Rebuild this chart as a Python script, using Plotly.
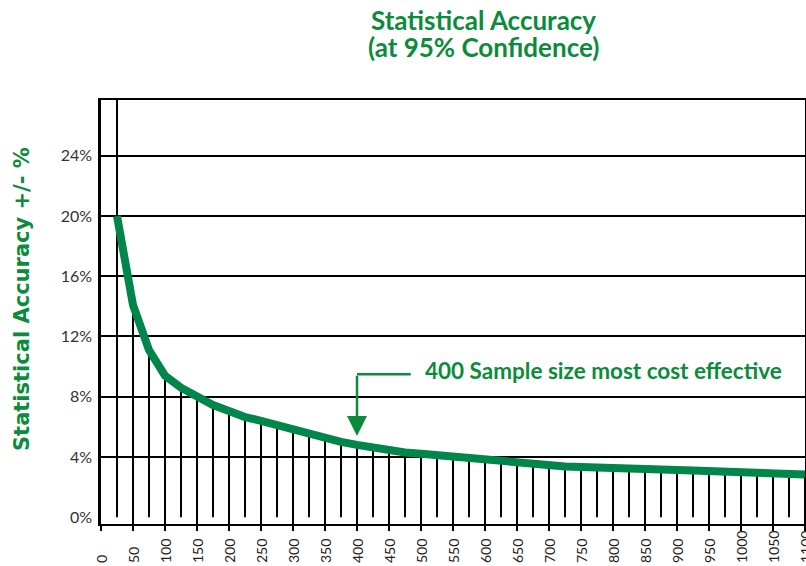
import plotly.graph_objects as go

# ---- data ----
sample_size = [25, 50, 75, 100, 125, 150, 175, 200, 225, 250, 275, 300, 325, 350,
               375, 400, 425, 450, 475, 500, 525, 550, 575, 600, 625, 650, 675, 700,
               725, 750, 775, 800, 825, 850, 875, 900, 925, 950, 975, 1000, 1025,
               1050, 1075, 1100]
accuracy = [20.0, 14.1, 11.1, 9.4, 8.6, 8.0, 7.45, 7.05, 6.65, 6.4, 6.1, 5.8, 5.5, 5.25,
            5.0, 4.8, 4.6, 4.45, 4.3, 4.22, 4.12, 4.0, 3.88, 3.78, 3.66, 3.55, 3.48, 3.42,
            3.37, 3.33, 3.28, 3.22, 3.19, 3.17, 3.15, 3.13, 3.11, 3.08, 3.04, 2.99, 2.95,
            2.92, 2.88, 2.84]
x_ticks = list(range(0, 1101, 50))
x_tick_labels = [str(v) for v in x_ticks]
y_ticks = [0, 4, 8, 12, 16, 20, 24]
y_tick_labels = [f"{v}%" for v in y_ticks]
grid_levels = [4, 8, 12, 16, 20, 24]
highlight_n = 400
highlight_text = "400 Sample size most cost effective"
title_lines = ["Statistical Accuracy", "(at 95% Confidence)"]
y_title = "Statistical Accuracy +/- %"

GREEN_LINE = "#00854a"
GREEN_TEXT = "#0b8b3c"
Y_MIN, Y_MAX = -0.45, 27.7

# layout geometry (pixels); body margin removed via post_script
W, H = 806, 566
L, R, T, B = 101, 1, 100, 42
PW, PH = W - L - R, H - T - B


def px_to_paper_y(sy):
    return (H - B - sy) / PH


def px_to_paper_x(sx):
    return (sx - L) / PW


# drop lines from curve to the baseline
drop_x, drop_y = [], []
for s, a in zip(sample_size[1:], accuracy[1:]):
    bottom = Y_MIN if s % 50 == 0 else 0.0
    drop_x += [s, s, None]
    drop_y += [a, bottom, None]

fig = go.Figure()
fig.add_trace(go.Scatter(x=drop_x, y=drop_y, mode="lines",
                         line=dict(color="black", width=2), hoverinfo="skip",
                         showlegend=False))
fig.add_trace(go.Scatter(x=sample_size, y=accuracy, mode="lines",
                         line=dict(color=GREEN_LINE, width=8),
                         showlegend=False))
fig.add_trace(go.Scatter(x=[None], y=[None], yaxis="y2", showlegend=False))

# full-height line at the first sample size
fig.add_shape(type="line", xref="x", yref="y", x0=sample_size[0], x1=sample_size[0],
              y0=0, y1=Y_MAX, line=dict(color="black", width=2), layer="below")

# elbow connector + arrow for annotation
idx = sample_size.index(highlight_n)
elbow_y = 9.5
fig.add_shape(type="line", xref="x", yref="y", x0=highlight_n, x1=484,
              y0=elbow_y, y1=elbow_y, line=dict(color=GREEN_TEXT, width=2.5))
fig.add_annotation(x=highlight_n, y=accuracy[idx] + 0.6, ax=highlight_n, ay=elbow_y,
                   axref="x", ayref="y", xref="x", yref="y", text="",
                   showarrow=True, arrowhead=2, arrowsize=1.6, arrowwidth=2.5,
                   arrowcolor=GREEN_TEXT)
fig.add_annotation(x=503, y=9.75, xref="x", yref="y", xanchor="left", yanchor="middle",
                   text=f"<b>{highlight_text}</b>", showarrow=False,
                   font=dict(family="Lato", size=22.5, color=GREEN_TEXT))

# title (two lines)
for line, cy in zip(title_lines, [20, 47]):
    fig.add_annotation(x=px_to_paper_x(483), y=px_to_paper_y(cy), xref="paper", yref="paper",
                       xanchor="center", yanchor="middle", text=f"<b>{line}</b>",
                       showarrow=False,
                       font=dict(family="Lato", size=26, color=GREEN_TEXT))

# y-axis title
fig.add_annotation(x=px_to_paper_x(22), y=px_to_paper_y(299), xref="paper", yref="paper",
                   text=f"<b>{y_title}</b>", textangle=-90,
                   showarrow=False, xanchor="center", yanchor="middle",
                   font=dict(family="DejaVu Sans", size=21, color=GREEN_TEXT))

# x tick labels, bottom-aligned
for v, lab in zip(x_ticks, x_tick_labels):
    fig.add_annotation(x=v, y=px_to_paper_y(565), xref="x", yref="paper",
                       text=lab, textangle=-90, showarrow=False,
                       xanchor="center", yanchor="bottom",
                       font=dict(family="Lato", size=14, color="#222"))

fig.update_layout(
    width=W, height=H,
    margin=dict(l=L, r=R, t=T, b=B, autoexpand=False),
    paper_bgcolor="white", plot_bgcolor="white",
    xaxis=dict(range=[0, 1100], tickvals=x_ticks, showticklabels=False,
               ticks="outside", ticklen=5, tickwidth=2,
               tickcolor="black", showgrid=False, zeroline=False, automargin=False,
               showline=True, linecolor="black", linewidth=2, mirror=True),
    yaxis=dict(range=[Y_MIN, Y_MAX], tickvals=y_ticks, ticktext=y_tick_labels,
               showgrid=False, zeroline=False, ticks="", automargin=False,
               showline=True, linecolor="black", linewidth=2.5, mirror=True,
               ticklabelstandoff=3,
               tickfont=dict(family="Lato", size=16, color="#333")),
    yaxis2=dict(range=[Y_MIN, Y_MAX], overlaying="y", tickvals=grid_levels,
                showgrid=True, gridcolor="black", gridwidth=2, automargin=False,
                showticklabels=False, zeroline=False, showline=False),
)

fig.write_html("out.html",
               config={"displayModeBar": False},
               post_script="document.body.style.margin='0';"
                           "document.body.style.overflow='hidden';")
